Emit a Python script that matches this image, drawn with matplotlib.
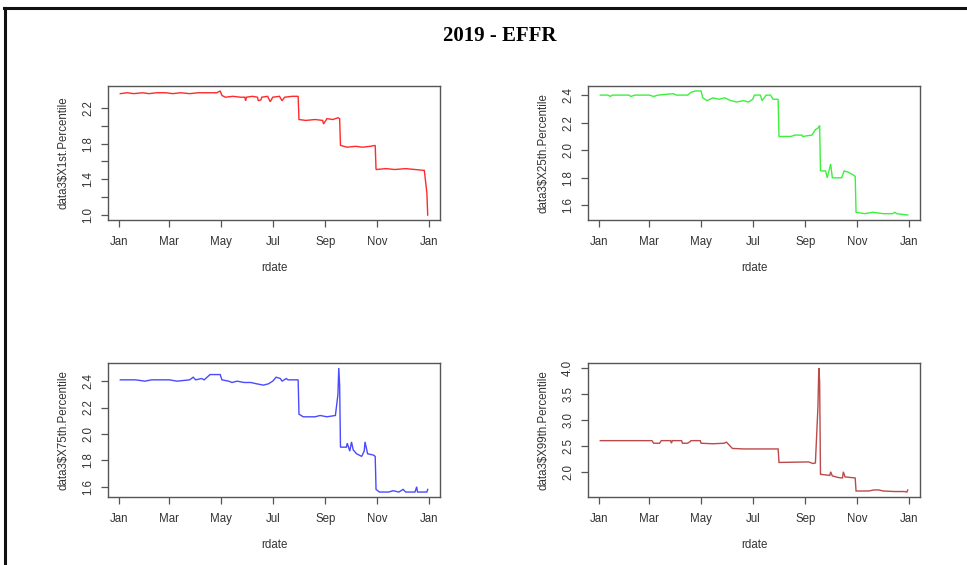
import matplotlib
matplotlib.use("Agg")
import matplotlib.pyplot as plt
import matplotlib.dates as mdates
from matplotlib.lines import Line2D
import pandas as pd

# ---------------- data ----------------
p1_dates = ["2019-01-02", "2019-01-10", "2019-01-18", "2019-01-28", "2019-02-05", "2019-02-14",
            "2019-02-25", "2019-03-05", "2019-03-14", "2019-03-25", "2019-04-04", "2019-04-15",
            "2019-04-26", "2019-04-30", "2019-05-02", "2019-05-06", "2019-05-15", "2019-05-24",
            "2019-05-29", "2019-05-30", "2019-05-31", "2019-06-07", "2019-06-13", "2019-06-14",
            "2019-06-17", "2019-06-18", "2019-06-25", "2019-06-28", "2019-07-01", "2019-07-09",
            "2019-07-12", "2019-07-15", "2019-07-24", "2019-07-31", "2019-08-01", "2019-08-09",
            "2019-08-20", "2019-08-29", "2019-08-30", "2019-09-03", "2019-09-10", "2019-09-16",
            "2019-09-18", "2019-09-19", "2019-09-27", "2019-10-07", "2019-10-15", "2019-10-24",
            "2019-10-30", "2019-10-31", "2019-11-12", "2019-11-22", "2019-12-05", "2019-12-16",
            "2019-12-27", "2019-12-30", "2019-12-31"]
p1_values = [2.36, 2.37, 2.36, 2.37, 2.36, 2.37,
             2.37, 2.36, 2.37, 2.36, 2.37, 2.37,
             2.37, 2.39, 2.34, 2.32, 2.33, 2.32,
             2.32, 2.28, 2.32, 2.33, 2.32, 2.28,
             2.29, 2.32, 2.33, 2.27, 2.32, 2.33,
             2.28, 2.32, 2.33, 2.33, 2.07, 2.06,
             2.07, 2.06, 2.02, 2.08, 2.07, 2.09,
             2.08, 1.78, 1.76, 1.77, 1.76, 1.77,
             1.78, 1.51, 1.52, 1.51, 1.52, 1.51,
             1.50, 1.25, 1.00]

p2_dates = ["2019-01-02", "2019-01-11", "2019-01-14", "2019-01-16", "2019-02-05", "2019-02-07",
            "2019-02-12", "2019-03-01", "2019-03-06", "2019-03-11", "2019-03-29", "2019-04-02",
            "2019-04-15", "2019-04-19", "2019-04-24", "2019-05-01", "2019-05-03", "2019-05-08",
            "2019-05-15", "2019-05-22", "2019-05-29", "2019-06-05", "2019-06-12", "2019-06-20",
            "2019-06-26", "2019-07-01", "2019-07-03", "2019-07-10", "2019-07-12", "2019-07-17",
            "2019-07-22", "2019-07-25", "2019-07-31", "2019-08-01", "2019-08-15", "2019-08-20",
            "2019-08-28", "2019-08-29", "2019-09-09", "2019-09-13", "2019-09-16", "2019-09-18",
            "2019-09-19", "2019-09-25", "2019-09-27", "2019-10-01", "2019-10-03", "2019-10-14",
            "2019-10-17", "2019-10-22", "2019-10-28", "2019-10-30", "2019-10-31", "2019-11-10",
            "2019-11-20", "2019-12-02", "2019-12-13", "2019-12-16", "2019-12-18", "2019-12-31"]
p2_values = [2.40, 2.40, 2.39, 2.40, 2.40, 2.39,
             2.40, 2.40, 2.39, 2.40, 2.41, 2.40,
             2.40, 2.42, 2.43, 2.43, 2.38, 2.36,
             2.38, 2.37, 2.38, 2.36, 2.35, 2.36,
             2.35, 2.37, 2.40, 2.40, 2.36, 2.40,
             2.40, 2.37, 2.37, 2.10, 2.10, 2.11,
             2.11, 2.10, 2.11, 2.15, 2.16, 2.18,
             1.85, 1.85, 1.80, 1.90, 1.80, 1.80,
             1.85, 1.84, 1.82, 1.81, 1.55, 1.54,
             1.55, 1.54, 1.54, 1.55, 1.54, 1.53]

p3_dates = ["2019-01-02", "2019-01-20", "2019-01-31", "2019-02-08", "2019-03-01", "2019-03-10",
            "2019-03-25", "2019-03-29", "2019-04-01", "2019-04-08", "2019-04-11", "2019-04-18",
            "2019-04-30", "2019-05-02", "2019-05-10", "2019-05-14", "2019-05-20", "2019-05-28",
            "2019-06-05", "2019-06-12", "2019-06-20", "2019-06-26", "2019-07-01", "2019-07-05",
            "2019-07-10", "2019-07-12", "2019-07-17", "2019-07-19", "2019-07-31", "2019-08-01",
            "2019-08-06", "2019-08-20", "2019-08-26", "2019-09-03", "2019-09-13", "2019-09-16",
            "2019-09-17", "2019-09-18", "2019-09-19", "2019-09-26", "2019-09-27", "2019-09-30",
            "2019-10-02", "2019-10-04", "2019-10-08", "2019-10-14", "2019-10-17", "2019-10-18",
            "2019-10-21", "2019-10-28", "2019-10-30", "2019-10-31", "2019-11-04", "2019-11-15",
            "2019-11-20", "2019-11-27", "2019-12-02", "2019-12-05", "2019-12-16", "2019-12-18",
            "2019-12-19", "2019-12-30", "2019-12-31"]
p3_values = [2.41, 2.41, 2.40, 2.41, 2.41, 2.40,
             2.41, 2.43, 2.41, 2.42, 2.41, 2.45,
             2.45, 2.41, 2.40, 2.39, 2.40, 2.39,
             2.39, 2.38, 2.37, 2.38, 2.40, 2.43,
             2.42, 2.40, 2.42, 2.41, 2.41, 2.15,
             2.13, 2.13, 2.14, 2.13, 2.14, 2.30,
             2.50, 2.37, 1.90, 1.90, 1.93, 1.87,
             1.94, 1.88, 1.85, 1.83, 1.87, 1.94,
             1.85, 1.84, 1.83, 1.58, 1.56, 1.56,
             1.57, 1.56, 1.58, 1.56, 1.56, 1.60,
             1.56, 1.56, 1.58]

p4_dates = ["2019-01-02", "2019-03-04", "2019-03-06", "2019-03-13", "2019-03-15", "2019-03-26",
            "2019-03-27", "2019-03-28", "2019-04-08", "2019-04-09", "2019-04-15", "2019-04-18",
            "2019-04-19", "2019-04-30", "2019-05-01", "2019-05-15", "2019-05-28", "2019-05-31",
            "2019-06-07", "2019-06-20", "2019-07-01", "2019-07-31", "2019-08-01", "2019-09-05",
            "2019-09-10", "2019-09-13", "2019-09-16", "2019-09-17", "2019-09-18", "2019-09-19",
            "2019-09-20", "2019-09-30", "2019-10-01", "2019-10-03", "2019-10-10", "2019-10-15",
            "2019-10-16", "2019-10-18", "2019-10-25", "2019-10-30", "2019-10-31", "2019-11-15",
            "2019-11-21", "2019-11-27", "2019-12-02", "2019-12-15", "2019-12-27", "2019-12-30",
            "2019-12-31"]
p4_values = [2.60, 2.60, 2.55, 2.55, 2.60, 2.60,
             2.55, 2.60, 2.60, 2.55, 2.55, 2.58,
             2.60, 2.60, 2.55, 2.54, 2.55, 2.57,
             2.45, 2.44, 2.44, 2.44, 2.18, 2.19,
             2.16, 2.17, 3.25, 4.00, 3.75, 1.95,
             1.95, 1.93, 2.00, 1.92, 1.89, 1.88,
             2.00, 1.90, 1.89, 1.88, 1.63, 1.63,
             1.65, 1.65, 1.63, 1.62, 1.62, 1.61,
             1.65]

series_labels = ["data3$X1st.Percentile", "data3$X25th.Percentile",
                 "data3$X75th.Percentile", "data3$X99th.Percentile"]
xtick_dates = ["2019-01-01", "2019-03-01", "2019-05-01", "2019-07-01",
               "2019-09-01", "2019-11-01", "2020-01-01"]
xtick_labels = ["Jan", "Mar", "May", "Jul", "Sep", "Nov", "Jan"]
p1_yticks = [1.0, 1.2, 1.4, 1.6, 1.8, 2.0, 2.2]
p1_ylabels = ["1.0", "", "1.4", "", "1.8", "", "2.2"]
p2_yticks = [1.6, 1.8, 2.0, 2.2, 2.4]
p3_yticks = [1.6, 1.8, 2.0, 2.2, 2.4]
p4_yticks = [2.0, 2.5, 3.0, 3.5, 4.0]
title_text = "2019 - EFFR"
xlabel_text = "rdate"

# ---------------- figure ----------------
W, H = 967, 565
fig = plt.figure(figsize=(W / 100, H / 100), dpi=100)
fig.patch.set_facecolor("white")

plt.rcParams["font.family"] = ["Liberation Sans", "DejaVu Sans"]

# outer frame (top and left edges visible)
fig.add_artist(Line2D([4 / W, 1.0], [1 - 8 / H, 1 - 8 / H], transform=fig.transFigure,
                      color="#111111", lw=2.2))
fig.add_artist(Line2D([5 / W, 5 / W], [0.0, 1 - 8 / H], transform=fig.transFigure,
                      color="#111111", lw=2.2))

fig.text(500 / W, 1 - 36 / H, title_text, ha="center", va="center",
         fontsize=15, fontweight="bold", family=["Liberation Serif", "DejaVu Serif"])

panels = [
    (p1_dates, p1_values, "#ff2a2a", p1_yticks, p1_ylabels, (108, 86)),
    (p2_dates, p2_values, "#3cf03c", p2_yticks, [f"{v:.1f}" for v in p2_yticks], (588, 86)),
    (p3_dates, p3_values, "#4a4aff", p3_yticks, [f"{v:.1f}" for v in p3_yticks], (108, 363)),
    (p4_dates, p4_values, "#bb4a4a", p4_yticks, [f"{v:.1f}" for v in p4_yticks], (588, 363)),
]
aw, ah = 332, 134
axis_col = "#555555"
text_col = "#333333"
fs = 8.3

for i, (dates, vals, col, yt, ytl, (x0, y0)) in enumerate(panels):
    ax = fig.add_axes([x0 / W, 1 - (y0 + ah) / H, aw / W, ah / H])
    d = pd.to_datetime(dates)
    ax.plot(d, vals, color=col, lw=1.0, solid_joinstyle="miter")
    ax.margins(x=0.04, y=0.04)
    ax.set_xticks(pd.to_datetime(xtick_dates))
    ax.set_xticklabels(xtick_labels)
    ax.set_yticks(yt)
    ax.set_yticklabels(ytl, rotation=90, va="center")
    for s in ax.spines.values():
        s.set_color(axis_col)
        s.set_linewidth(1.0)
    ax.tick_params(axis="both", direction="out", length=5, width=0.9, color=axis_col,
                   labelsize=fs, labelcolor=text_col)
    ax.tick_params(axis="x", pad=6.5)
    ax.tick_params(axis="y", pad=5)
    ax.set_xlabel(xlabel_text, fontsize=fs, color=text_col)
    ax.xaxis.set_label_coords(0.5, -42 / ah)
    ax.set_ylabel(series_labels[i], fontsize=fs, color=text_col, va="center")
    ax.yaxis.set_label_coords(-45 / aw, 0.5)

fig.savefig("out.png", dpi=100, facecolor="white")
